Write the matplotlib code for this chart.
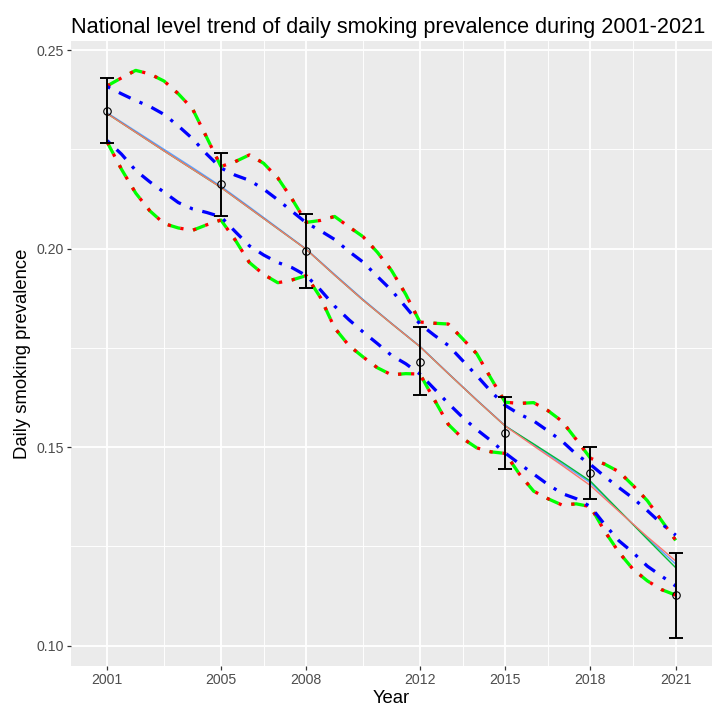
import matplotlib
matplotlib.use('Agg')
import matplotlib.pyplot as plt
import numpy as np

plt.rcParams['font.family'] = ['Liberation Sans', 'DejaVu Sans']

# ---- data ----
survey_years = [2001, 2005, 2008, 2012, 2015, 2018, 2021]
obs_mean = [0.2347, 0.2162, 0.1995, 0.1715, 0.1536, 0.1434, 0.1127]
obs_low = [0.2265, 0.2082, 0.1902, 0.1631, 0.1446, 0.1368, 0.1020]
obs_high = [0.2429, 0.2242, 0.2087, 0.1803, 0.1627, 0.1500, 0.1234]

years = list(range(2001, 2022))
est_red = [0.2340, 0.2293, 0.2246, 0.2200, 0.2154, 0.2102, 0.2050, 0.1998, 0.1933, 0.1870,
           0.1811, 0.1753, 0.1685, 0.1618, 0.1553, 0.1503, 0.1454, 0.1403, 0.1338, 0.1274, 0.1213]
est_green = [0.2340, 0.2293, 0.2246, 0.2200, 0.2154, 0.2102, 0.2050, 0.1998, 0.1933, 0.1870,
             0.1811, 0.1753, 0.1685, 0.1618, 0.1553, 0.1508, 0.1462, 0.1414, 0.1341, 0.1268, 0.1196]
est_blue = [0.2342, 0.2296, 0.2250, 0.2204, 0.2157, 0.2105, 0.2052, 0.1999, 0.1935, 0.1872,
            0.1812, 0.1754, 0.1686, 0.1619, 0.1554, 0.1506, 0.1458, 0.1410, 0.1340, 0.1271, 0.1205]

band_years = [2001.0, 2001.5, 2002.0, 2002.5, 2003.0, 2003.5, 2004.0, 2004.5, 2005.0, 2005.5,
              2006.0, 2006.5, 2007.0, 2007.5, 2008.0, 2008.5, 2009.0, 2009.5, 2010.0, 2010.5,
              2011.0, 2011.5, 2012.0, 2012.5, 2013.0, 2013.5, 2014.0, 2014.5, 2015.0, 2015.5,
              2016.0, 2016.5, 2017.0, 2017.5, 2018.0, 2018.5, 2019.0, 2019.5, 2020.0, 2020.5, 2021.0]

upper_red = [0.2410, 0.2430, 0.2449, 0.2440, 0.2422, 0.2390, 0.2352, 0.2280, 0.2207, 0.2219,
             0.2236, 0.2215, 0.2178, 0.2125, 0.2066, 0.2071, 0.2081, 0.2055, 0.2030, 0.1991,
             0.1945, 0.1885, 0.1815, 0.1812, 0.1810, 0.1773, 0.1735, 0.1673, 0.1613, 0.1610,
             0.1612, 0.1592, 0.1565, 0.1519, 0.1472, 0.1457, 0.1438, 0.1403, 0.1365, 0.1315, 0.1265]
lower_red = [0.2268, 0.2200, 0.2140, 0.2095, 0.2063, 0.2052, 0.2046, 0.2060, 0.2072, 0.2022,
             0.1965, 0.1935, 0.1914, 0.1921, 0.1932, 0.1877, 0.1800, 0.1756, 0.1727, 0.1700,
             0.1682, 0.1685, 0.1684, 0.1620, 0.1557, 0.1522, 0.1498, 0.1488, 0.1484, 0.1432,
             0.1389, 0.1370, 0.1354, 0.1357, 0.1350, 0.1288, 0.1235, 0.1192, 0.1163, 0.1141, 0.1127]
upper_green = list(upper_red)
lower_green = list(lower_red)
upper_blue = [0.2408, 0.2390, 0.2373, 0.2358, 0.2338, 0.2309, 0.2277, 0.2238, 0.2203, 0.2185,
              0.2172, 0.2150, 0.2123, 0.2094, 0.2065, 0.2045, 0.2023, 0.1993, 0.1966, 0.1930,
              0.1895, 0.1853, 0.1810, 0.1782, 0.1756, 0.1718, 0.1680, 0.1640, 0.1605, 0.1583,
              0.1566, 0.1541, 0.1515, 0.1482, 0.1456, 0.1426, 0.1398, 0.1371, 0.1340, 0.1307, 0.1278]
lower_blue = [0.2272, 0.2238, 0.2197, 0.2168, 0.2142, 0.2116, 0.2100, 0.2091, 0.2080, 0.2043,
              0.2007, 0.1984, 0.1965, 0.1952, 0.1932, 0.1896, 0.1855, 0.1821, 0.1790, 0.1761,
              0.1731, 0.1710, 0.1684, 0.1647, 0.1610, 0.1575, 0.1544, 0.1516, 0.1485, 0.1458,
              0.1432, 0.1406, 0.1383, 0.1370, 0.1350, 0.1305, 0.1264, 0.1234, 0.1200, 0.1175, 0.1150]

x_ticks = [2001, 2005, 2008, 2012, 2015, 2018, 2021]
y_ticks = [0.10, 0.15, 0.20, 0.25]
y_tick_labels = ['0.10', '0.15', '0.20', '0.25']

# ---- figure ----
fig = plt.figure(figsize=(7.14, 7.11), dpi=100)
ax = fig.add_axes([71 / 714, 45 / 711, 641 / 714, 625 / 711])
ax.set_facecolor('#EBEBEB')
for s in ax.spines.values():
    s.set_visible(False)

ax.set_xlim(1999.725, 2022.275)
ax.set_ylim(0.09485, 0.2523)

# grid
minor_x = [(a + b) / 2 for a, b in zip(x_ticks[:-1], x_ticks[1:])]
minor_y = [(a + b) / 2 for a, b in zip(y_ticks[:-1], y_ticks[1:])]
ax.set_xticks(x_ticks)
ax.set_xticks(minor_x, minor=True)
ax.set_yticks(y_ticks)
ax.set_yticks(minor_y, minor=True)
ax.set_yticklabels(y_tick_labels)
ax.grid(which='major', color='white', linewidth=1.3, zorder=0)
ax.grid(which='minor', color='white', linewidth=0.65, zorder=0)
ax.set_axisbelow(True)
ax.tick_params(which='major', length=2.9, width=0.9, color='#333333',
               labelcolor='#4D4D4D', labelsize=10.2, pad=2.2)
ax.tick_params(which='minor', length=0)

lw_c = 1.0
ax.plot(years, est_blue, color='#619CFF', lw=lw_c, zorder=2)
ax.plot(years, est_green, color='#00BA38', lw=lw_c, zorder=2.1)
ax.plot(years, est_red, color='#F8766D', lw=lw_c, zorder=2.2)

lw_b = 2.34
for up, lo, col, ls, z in [
        (upper_green, lower_green, '#00FF00', (0, (4, 4)), 3),
        (upper_red, lower_red, '#FF0000', (0, (1, 3)), 3.1),
        (upper_blue, lower_blue, '#0000FF', (0, (1, 3, 4, 3)), 3.2)]:
    ax.plot(band_years, up, color=col, lw=lw_b, linestyle=ls,
            dash_capstyle='butt', zorder=z)
    ax.plot(band_years, lo, color=col, lw=lw_b, linestyle=ls,
            dash_capstyle='butt', zorder=z)

yerr = [np.array(obs_mean) - np.array(obs_low), np.array(obs_high) - np.array(obs_mean)]
ax.errorbar(survey_years, obs_mean, yerr=yerr, fmt='none', ecolor='black',
            elinewidth=1.4, capsize=5.0, capthick=1.4, zorder=5)
ax.plot(survey_years, obs_mean, linestyle='none', marker='o', markersize=5.4,
        markerfacecolor='none', markeredgecolor='black', markeredgewidth=0.8, zorder=6)

ax.set_xlabel('Year', fontsize=13.3, color='black', labelpad=2)
ax.set_ylabel('Daily smoking prevalence', fontsize=13.3, color='black', labelpad=4)
ax.set_title('National level trend of daily smoking prevalence during 2001-2021',
             fontsize=15.6, color='black', loc='left', pad=6)

fig.savefig('out.png', dpi=100)
